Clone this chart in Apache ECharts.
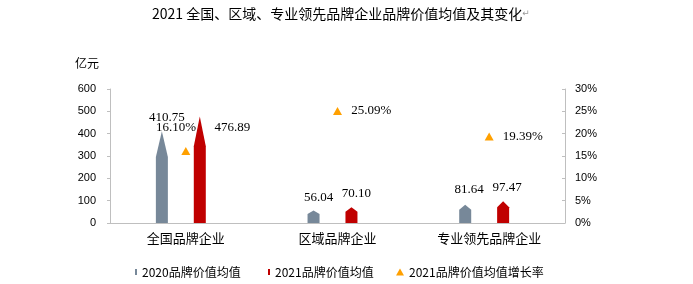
<!DOCTYPE html>
<html>
<head>
<meta charset="utf-8">
<script src="https://cdn.jsdelivr.net/npm/echarts@6/dist/echarts.min.js"></script>
<style>html,body{margin:0;padding:0;background:#fff;}#c{width:693px;height:284px;}</style>
</head>
<body>
<div id="c"></div>
<script>
const categories = ['全国品牌企业', '区域品牌企业', '专业领先品牌企业'];
const value2020 = [410.75, 56.04, 81.64];
const value2021 = [476.89, 70.10, 97.47];
const growth2021 = [16.10, 25.09, 19.39];
const seriesNames = ['2020品牌价值均值', '2021品牌价值均值', '2021品牌价值均值增长率'];

// label offsets (style only)
const off2020 = [[0, -2.5], [0, -1.7], [-1, -3.3]];
const off2021 = [[27.7, 22.3], [0, -1.8], [-1, -2.4]];
const offGrowth = [[-9.8, -23.7], [33.7, 0], [33.7, 0]];

const CJK = '"Noto Sans CJK SC", "Liberation Sans", sans-serif';
const SERIF = '"Liberation Serif", "DejaVu Serif", serif';
const AX = '"Liberation Sans", Arial, sans-serif';
const axisGray = '#BFBFBF';
const pencil = 'path://M0,28 L6,0 L12,28 L12,100 L0,100 Z';

function barData(vals, offs) {
  return vals.map((v, i) => ({
    value: v,
    label: { offset: offs[i] }
  }));
}

const legendText = { fontFamily: CJK, fontSize: 12, color: '#000' };

const chart = echarts.init(document.getElementById('c'), null, { renderer: 'canvas' });
chart.setOption({
  animation: false,
  backgroundColor: '#fff',
  title: {
    text: '2021 全国、区域、专业领先品牌企业品牌价值均值及其变化{r|↵}',
    left: 147, top: 2,
    textStyle: {
      fontFamily: CJK, fontSize: 14, fontWeight: 'normal', color: '#000',
      rich: { r: { fontSize: 9, color: '#999', fontFamily: 'DejaVu Sans' } }
    }
  },
  legend: [
    { data: [{ name: seriesNames[0], icon: 'rect' }], left: 130, top: 261, itemWidth: 2, itemHeight: 6, textStyle: legendText },
    { data: [{ name: seriesNames[1], icon: 'rect' }], left: 263, top: 261, itemWidth: 2, itemHeight: 6, textStyle: legendText },
    { data: [{ name: seriesNames[2], icon: 'triangle' }], left: 391, top: 261, itemWidth: 8, itemHeight: 7, textStyle: legendText }
  ],
  grid: { left: 110, right: 128, top: 89, bottom: 61, containLabel: false },
  xAxis: {
    type: 'category',
    data: categories,
    axisLine: { lineStyle: { color: axisGray } },
    axisTick: { length: 4, lineStyle: { color: axisGray } },
    axisLabel: { fontFamily: CJK, fontSize: 13, color: '#000', margin: 9 }
  },
  yAxis: [
    {
      type: 'value', min: 0, max: 600, interval: 100,
      name: '亿元', nameLocation: 'end', nameGap: 20,
      nameTextStyle: { fontFamily: CJK, fontSize: 12, color: '#000', align: 'right', padding: [0, 11, 0, 0] },
      axisLine: { show: true, lineStyle: { color: axisGray } },
      axisTick: { show: true, length: 3, lineStyle: { color: axisGray } },
      splitLine: { show: false },
      axisLabel: { fontFamily: AX, fontSize: 11, color: '#000', margin: 14 }
    },
    {
      type: 'value', min: 0, max: 30, interval: 5,
      axisLine: { show: true, lineStyle: { color: axisGray } },
      axisTick: { show: true, inside: true, length: 3, lineStyle: { color: axisGray } },
      splitLine: { show: false },
      axisLabel: { fontFamily: AX, fontSize: 11, color: '#000', margin: 10, formatter: '{value}%' }
    }
  ],
  series: [
    {
      name: seriesNames[0], type: 'pictorialBar', yAxisIndex: 0,
      barWidth: 12, barGap: '216%',
      symbol: pencil, symbolSize: [12, '100%'], symbolOffset: [-5, 0],
      itemStyle: { color: '#778899' },
      label: { show: true, position: 'top', fontFamily: SERIF, fontSize: 13, color: '#000',
        formatter: p => p.value.toFixed(2) },
      data: barData(value2020, off2020)
    },
    {
      name: seriesNames[1], type: 'pictorialBar', yAxisIndex: 0,
      barWidth: 12, barGap: '216%',
      symbol: pencil, symbolSize: [12, '100%'], symbolOffset: [-5, 0],
      itemStyle: { color: '#C00000' },
      label: { show: true, position: 'top', fontFamily: SERIF, fontSize: 13, color: '#000',
        formatter: p => p.value.toFixed(2) },
      data: barData(value2021, off2021)
    },
    {
      name: seriesNames[2], type: 'line', yAxisIndex: 1,
      lineStyle: { width: 0, opacity: 0 },
      symbol: 'triangle', symbolSize: [9, 8],
      itemStyle: { color: '#FFA000' },
      label: { show: true, position: 'inside', fontFamily: SERIF, fontSize: 13, color: '#000',
        formatter: p => p.value.toFixed(2) + '%' },
      data: growth2021.map((v, i) => ({ value: v, label: { offset: offGrowth[i] } }))
    }
  ]
});
</script>
</body>
</html>
